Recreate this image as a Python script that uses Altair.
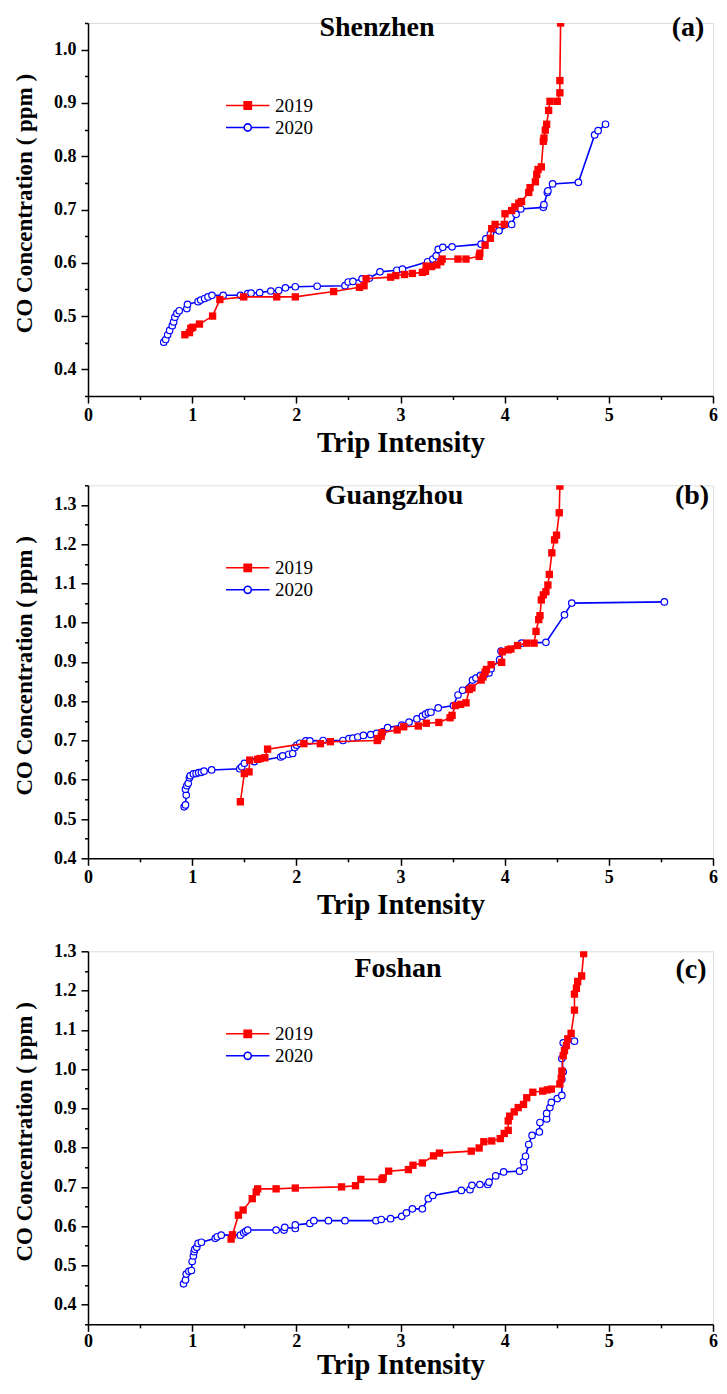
import altair as alt
import pandas as pd

FONT = "Liberation Serif"
YEARS = ["2019", "2020"]
CITIES = ["Shenzhen", "Guangzhou", "Foshan"]
TAGS = ["(a)", "(b)", "(c)"]

# ---------------- data ----------------
# (a) Shenzhen
sz_2019_x = [0.93, 0.974, 0.987, 1.006, 1.07, 1.196, 1.266, 1.495, 1.812, 1.99, 2.358, 2.606, 2.65, 2.67, 2.905,
             2.955, 3.038, 3.114, 3.21, 3.24, 3.247, 3.298, 3.349, 3.387, 3.40, 3.552, 3.629, 3.755, 3.762, 3.812,
             3.863, 3.876, 3.908, 3.996, 4.003, 4.067, 4.098, 4.136, 4.162, 4.231, 4.244, 4.295, 4.308, 4.32, 4.352,
             4.371, 4.377, 4.39, 4.403, 4.422, 4.435, 4.505, 4.53, 4.53, 4.537]
sz_2019_y = [0.465, 0.469, 0.477, 0.479, 0.485, 0.500, 0.531, 0.536, 0.536, 0.536, 0.546, 0.554, 0.557, 0.570, 0.573,
             0.576, 0.578, 0.580, 0.582, 0.584, 0.594, 0.593, 0.596, 0.602, 0.607, 0.607, 0.607, 0.612, 0.618, 0.633,
             0.646, 0.664, 0.672, 0.672, 0.692, 0.698, 0.705, 0.712, 0.715, 0.732, 0.741, 0.752, 0.766, 0.775, 0.780,
             0.828, 0.834, 0.849, 0.860, 0.886, 0.903, 0.903, 0.919, 0.942, 1.05]
sz_2020_x = [0.727, 0.746, 0.765, 0.784, 0.809, 0.822, 0.834, 0.853, 0.876, 0.949, 0.955, 1.057, 1.082, 1.12, 1.152,
             1.19, 1.298, 1.463, 1.533, 1.565, 1.648, 1.755, 1.831, 1.895, 1.99, 2.2, 2.467, 2.498, 2.543, 2.631,
             2.70, 2.803, 2.965, 3.019, 3.26, 3.31, 3.343, 3.362, 3.406, 3.495, 3.774, 3.819, 3.863, 3.946, 4.067,
             4.11, 4.155, 4.371, 4.377, 4.41, 4.415, 4.46, 4.708, 4.864, 4.897, 4.968]
sz_2020_y = [0.451, 0.456, 0.465, 0.473, 0.482, 0.489, 0.498, 0.505, 0.510, 0.514, 0.522, 0.527, 0.530, 0.533, 0.536,
             0.539, 0.539, 0.539, 0.542, 0.543, 0.544, 0.547, 0.548, 0.553, 0.555, 0.556, 0.557, 0.564, 0.565, 0.570,
             0.571, 0.583, 0.586, 0.588, 0.602, 0.607, 0.613, 0.625, 0.629, 0.630, 0.635, 0.645, 0.654, 0.660, 0.672,
             0.691, 0.701, 0.704, 0.709, 0.732, 0.735, 0.748, 0.751, 0.840, 0.848, 0.860]

# (b) Guangzhou
gz_2019_x = [1.463, 1.501, 1.546, 1.552, 1.629, 1.653, 1.698, 1.724, 2.072, 2.231, 2.327, 2.777, 2.784, 2.815, 2.822,
             2.968, 3.031, 3.171, 3.248, 3.368, 3.476, 3.495, 3.527, 3.577, 3.629, 3.66, 3.686, 3.774, 3.793, 3.812,
             3.825, 3.87, 3.971, 3.977, 4.034, 4.06, 4.124, 4.212, 4.282, 4.301, 4.327, 4.339, 4.352, 4.371, 4.396,
             4.415, 4.429, 4.453, 4.479, 4.498, 4.524, 4.53]
gz_2019_y = [0.544, 0.616, 0.620, 0.650, 0.652, 0.654, 0.656, 0.678, 0.692, 0.692, 0.697, 0.700, 0.705, 0.711, 0.720,
             0.727, 0.735, 0.737, 0.744, 0.746, 0.758, 0.764, 0.789, 0.792, 0.796, 0.830, 0.834, 0.854, 0.862, 0.874,
             0.881, 0.893, 0.899, 0.926, 0.931, 0.933, 0.942, 0.948, 0.948, 0.978, 1.008, 1.018, 1.058, 1.071, 1.079,
             1.096, 1.123, 1.178, 1.211, 1.223, 1.280, 1.348]
gz_2020_x = [0.923, 0.936, 0.943, 0.936, 0.949, 0.962, 0.974, 0.981, 1.012, 1.038, 1.063, 1.089, 1.114, 1.187, 1.457,
             1.476, 1.501, 1.596, 1.85, 1.869, 1.927, 1.965, 1.984, 2.003, 2.034, 2.091, 2.13, 2.257, 2.448, 2.505,
             2.543, 2.59, 2.644, 2.714, 2.771, 2.829, 2.876, 3.012, 3.082, 3.158, 3.21, 3.241, 3.267, 3.292, 3.362,
             3.508, 3.552, 3.596, 3.691, 3.724, 3.768, 3.812, 3.85, 3.87, 3.952, 3.965, 4.162, 4.396, 4.574, 4.644,
             5.533]
gz_2020_y = [0.531, 0.536, 0.561, 0.576, 0.585, 0.591, 0.605, 0.610, 0.615, 0.616, 0.618, 0.619, 0.622, 0.625, 0.628,
             0.633, 0.642, 0.646, 0.658, 0.661, 0.665, 0.667, 0.682, 0.688, 0.693, 0.699, 0.699, 0.700, 0.700, 0.705,
             0.706, 0.709, 0.713, 0.715, 0.718, 0.722, 0.733, 0.739, 0.747, 0.755, 0.762, 0.767, 0.771, 0.772, 0.783,
             0.789, 0.816, 0.828, 0.854, 0.859, 0.866, 0.869, 0.872, 0.883, 0.906, 0.928, 0.948, 0.950, 1.020, 1.050,
             1.053]

# (c) Foshan
fs_2019_x = [1.374, 1.387, 1.444, 1.489, 1.577, 1.615, 1.629, 1.806, 1.99, 2.434, 2.568, 2.619, 2.822, 2.834, 2.886,
             3.076, 3.12, 3.21, 3.317, 3.374, 3.679, 3.755, 3.8, 3.876, 3.958, 3.996, 4.034, 4.034, 4.048, 4.092,
             4.13, 4.181, 4.212, 4.27, 4.365, 4.41, 4.448, 4.53, 4.543, 4.549, 4.562, 4.574, 4.593, 4.606, 4.638,
             4.67, 4.67, 4.689, 4.701, 4.739, 4.758]
fs_2019_y = [0.567, 0.578, 0.628, 0.641, 0.670, 0.687, 0.695, 0.695, 0.697, 0.700, 0.703, 0.719, 0.719, 0.723, 0.740,
             0.744, 0.755, 0.761, 0.779, 0.786, 0.791, 0.799, 0.815, 0.817, 0.823, 0.836, 0.844, 0.868, 0.880, 0.891,
             0.902, 0.910, 0.927, 0.941, 0.944, 0.947, 0.949, 0.962, 0.977, 0.995, 1.034, 1.047, 1.060, 1.077, 1.091,
             1.150, 1.191, 1.206, 1.223, 1.237, 1.294]
fs_2020_x = [0.917, 0.936, 0.943, 0.968, 0.993, 1.0, 1.012, 1.019, 1.025, 1.044, 1.057, 1.089, 1.222, 1.241, 1.279,
             1.463, 1.495, 1.514, 1.533, 1.806, 1.882, 1.889, 1.99, 1.99, 2.13, 2.168, 2.308, 2.467, 2.765, 2.815,
             2.905, 3.012, 3.057, 3.114, 3.21, 3.267, 3.31, 3.584, 3.667, 3.686, 3.762, 3.838, 3.85, 3.914, 3.99,
             4.143, 4.187, 4.181, 4.2, 4.231, 4.263, 4.333, 4.339, 4.403, 4.403, 4.434, 4.448, 4.505, 4.549, 4.549,
             4.562, 4.549, 4.562, 4.67]
fs_2020_y = [0.453, 0.463, 0.478, 0.485, 0.487, 0.510, 0.524, 0.535, 0.541, 0.546, 0.556, 0.559, 0.569, 0.573, 0.577,
             0.577, 0.583, 0.587, 0.590, 0.590, 0.590, 0.597, 0.594, 0.603, 0.607, 0.614, 0.614, 0.614, 0.614, 0.617,
             0.619, 0.625, 0.634, 0.644, 0.644, 0.670, 0.678, 0.691, 0.693, 0.704, 0.706, 0.706, 0.712, 0.728, 0.738,
             0.740, 0.750, 0.764, 0.778, 0.808, 0.831, 0.840, 0.864, 0.873, 0.887, 0.902, 0.915, 0.925, 0.933, 0.974,
             0.993, 1.027, 1.067, 1.071]

# axis ticks (halves / 0.05 steps are unlabelled minor ticks)
X_TICKS = [0, 0.5, 1, 1.5, 2, 2.5, 3, 3.5, 4, 4.5, 5, 5.5, 6]
Y_TICKS_A = [0.35, 0.4, 0.45, 0.5, 0.55, 0.6, 0.65, 0.7, 0.75, 0.8, 0.85, 0.9, 0.95, 1.0, 1.05]
Y_TICKS_B = [0.4, 0.45, 0.5, 0.55, 0.6, 0.65, 0.7, 0.75, 0.8, 0.85, 0.9, 0.95, 1.0, 1.05, 1.1, 1.15, 1.2, 1.25,
             1.3, 1.35]
Y_TICKS_C = [0.35, 0.4, 0.45, 0.5, 0.55, 0.6, 0.65, 0.7, 0.75, 0.8, 0.85, 0.9, 0.95, 1.0, 1.05, 1.1, 1.15, 1.2,
             1.25, 1.3]
Y_DOMAINS = [[0.35, 1.05], [0.4, 1.35], [0.35, 1.3]]

RED = "#ff0000"
BLUE = "#0000ff"
W, H = 625, 373

# legend symbols: line with marker in the middle (unit = sqrt(size)/2 px)
PATH_2019 = "M-1,0H4.8M1.42,-0.48H2.38V0.48H1.42Z"
PATH_2020 = "M-1,0H1.42M2.38,0H4.8M1.42,0A0.48,0.48,0,1,1,2.38,0A0.48,0.48,0,1,1,1.42,0Z"


def panel(i, x19, y19, x20, y20, ydom, yticks, title_x, title_y, tag_x, tag_y,
          xlabel_pad=3, xtitle_pad=4):
    df = pd.DataFrame({
        "x": x19 + x20,
        "y": y19 + y20,
        "year": ["2019"] * len(x19) + ["2020"] * len(x20),
        "idx": list(range(len(x19))) + list(range(len(x20))),
    })
    x_axis = alt.Axis(
        values=X_TICKS, title="Trip Intensity", grid=False,
        labelExpr="datum.value % 1 == 0 ? format(datum.value, 'd') : ''",
        tickSize={"condition": {"test": "datum.value % 1 != 0", "value": 3.5}, "value": 7},
        labelFont=FONT, labelFontWeight="bold", labelFontSize=18, labelColor="black",
        titleFont=FONT, titleFontWeight="bold", titleFontSize=28.5, titleColor="black",
        domainColor="black", domainWidth=1.5, tickColor="black", tickWidth=1.5,
        labelPadding=xlabel_pad, titlePadding=xtitle_pad, labelFlush=False, labelOverlap=False,
    )
    y_axis = alt.Axis(
        values=yticks, title="CO Concentration ( ppm )", grid=False,
        labelExpr="round(datum.value*20) % 2 == 0 ? format(datum.value, '.1f') : ''",
        tickSize={"condition": {"test": "round(datum.value*20) % 2 != 0", "value": 3.5}, "value": 7},
        labelFont=FONT, labelFontWeight="bold", labelFontSize=18, labelColor="black",
        titleFont=FONT, titleFontWeight="bold", titleFontSize=23, titleColor="black",
        titleY=180,
        domainColor="black", domainWidth=1.5, tickColor="black", tickWidth=1.5,
        labelPadding=5, titlePadding=16.6, labelFlush=False, labelOverlap=False,
    )
    xenc = alt.X("x:Q", scale=alt.Scale(domain=[0, 6], nice=False, zero=False), axis=x_axis)
    yenc = alt.Y("y:Q", scale=alt.Scale(domain=ydom, nice=False, zero=False), axis=y_axis)
    base = alt.Chart(df).encode(x=xenc, y=yenc, order="idx:Q")

    line20 = base.transform_filter(alt.datum.year == "2020").mark_line(
        color=BLUE, strokeWidth=1.6, clip=True)
    pts20 = base.transform_filter(alt.datum.year == "2020").mark_point(
        shape="circle", filled=True, fill="white", stroke=BLUE, strokeWidth=1.2,
        size=42, opacity=1, clip=True)
    line19 = base.transform_filter(alt.datum.year == "2019").mark_line(
        color=RED, strokeWidth=1.6, clip=True)
    pts19 = base.transform_filter(alt.datum.year == "2019").mark_square(
        color=RED, size=54, opacity=1, clip=True)

    leg = alt.Legend(
        title=None, orient="none", legendX=136, legendY=73, direction="vertical",
        symbolSize=225, symbolStrokeWidth=1.6, labelFont=FONT, labelFontSize=19,
        labelColor="black", labelOffset=32, rowPadding=2, padding=0,
    )
    legend_layer = alt.Chart(df).transform_filter("false").mark_point(
        filled=True, opacity=1, strokeWidth=1.6).encode(
        x=xenc, y=yenc,
        shape=alt.Shape("year:N", scale=alt.Scale(domain=YEARS, range=[PATH_2019, PATH_2020]), legend=leg),
        fill=alt.Fill("year:N", scale=alt.Scale(domain=YEARS, range=[RED, "#ffffff"]), legend=leg),
        stroke=alt.Stroke("year:N", scale=alt.Scale(domain=YEARS, range=[RED, BLUE]), legend=leg),
    )

    txt = pd.DataFrame({"city": [CITIES[i]], "tag": [TAGS[i]]})
    city_text = alt.Chart(txt).mark_text(
        font=FONT, fontSize=28, fontWeight="bold", color="black", align="center", baseline="alphabetic"
    ).encode(text="city:N", x=alt.value(title_x), y=alt.value(title_y))
    tag_text = alt.Chart(txt).mark_text(
        font=FONT, fontSize=28, fontWeight="bold", color="black", align="center", baseline="alphabetic"
    ).encode(text="tag:N", x=alt.value(tag_x), y=alt.value(tag_y))

    return alt.layer(line20, pts20, line19, pts19, legend_layer, city_text, tag_text).properties(
        width=W, height=H)


pa = panel(0, sz_2019_x, sz_2019_y, sz_2020_x, sz_2020_y, Y_DOMAINS[0], Y_TICKS_A, 289, 13, 600, 13)
pb = panel(1, gz_2019_x, gz_2019_y, gz_2020_x, gz_2020_y, Y_DOMAINS[1], Y_TICKS_B, 306, 19, 604, 19)
pc = panel(2, fs_2019_x, fs_2019_y, fs_2020_x, fs_2020_y, Y_DOMAINS[2], Y_TICKS_C, 310, 26, 603, 27,
           xlabel_pad=1, xtitle_pad=0)

inner = alt.vconcat(pb, pc, spacing=93, bounds="flush").resolve_scale(
    shape="independent", fill="independent", stroke="independent")

chart = alt.vconcat(pa, inner, spacing=89.3, bounds="flush").resolve_scale(
    shape="independent", fill="independent", stroke="independent"
).properties(
    padding={"left": 5, "top": 5, "right": 0, "bottom": 0}
).configure_view(stroke=None).configure(background="white")

chart.save("out.html", embed_options={"renderer": "svg", "actions": False})
